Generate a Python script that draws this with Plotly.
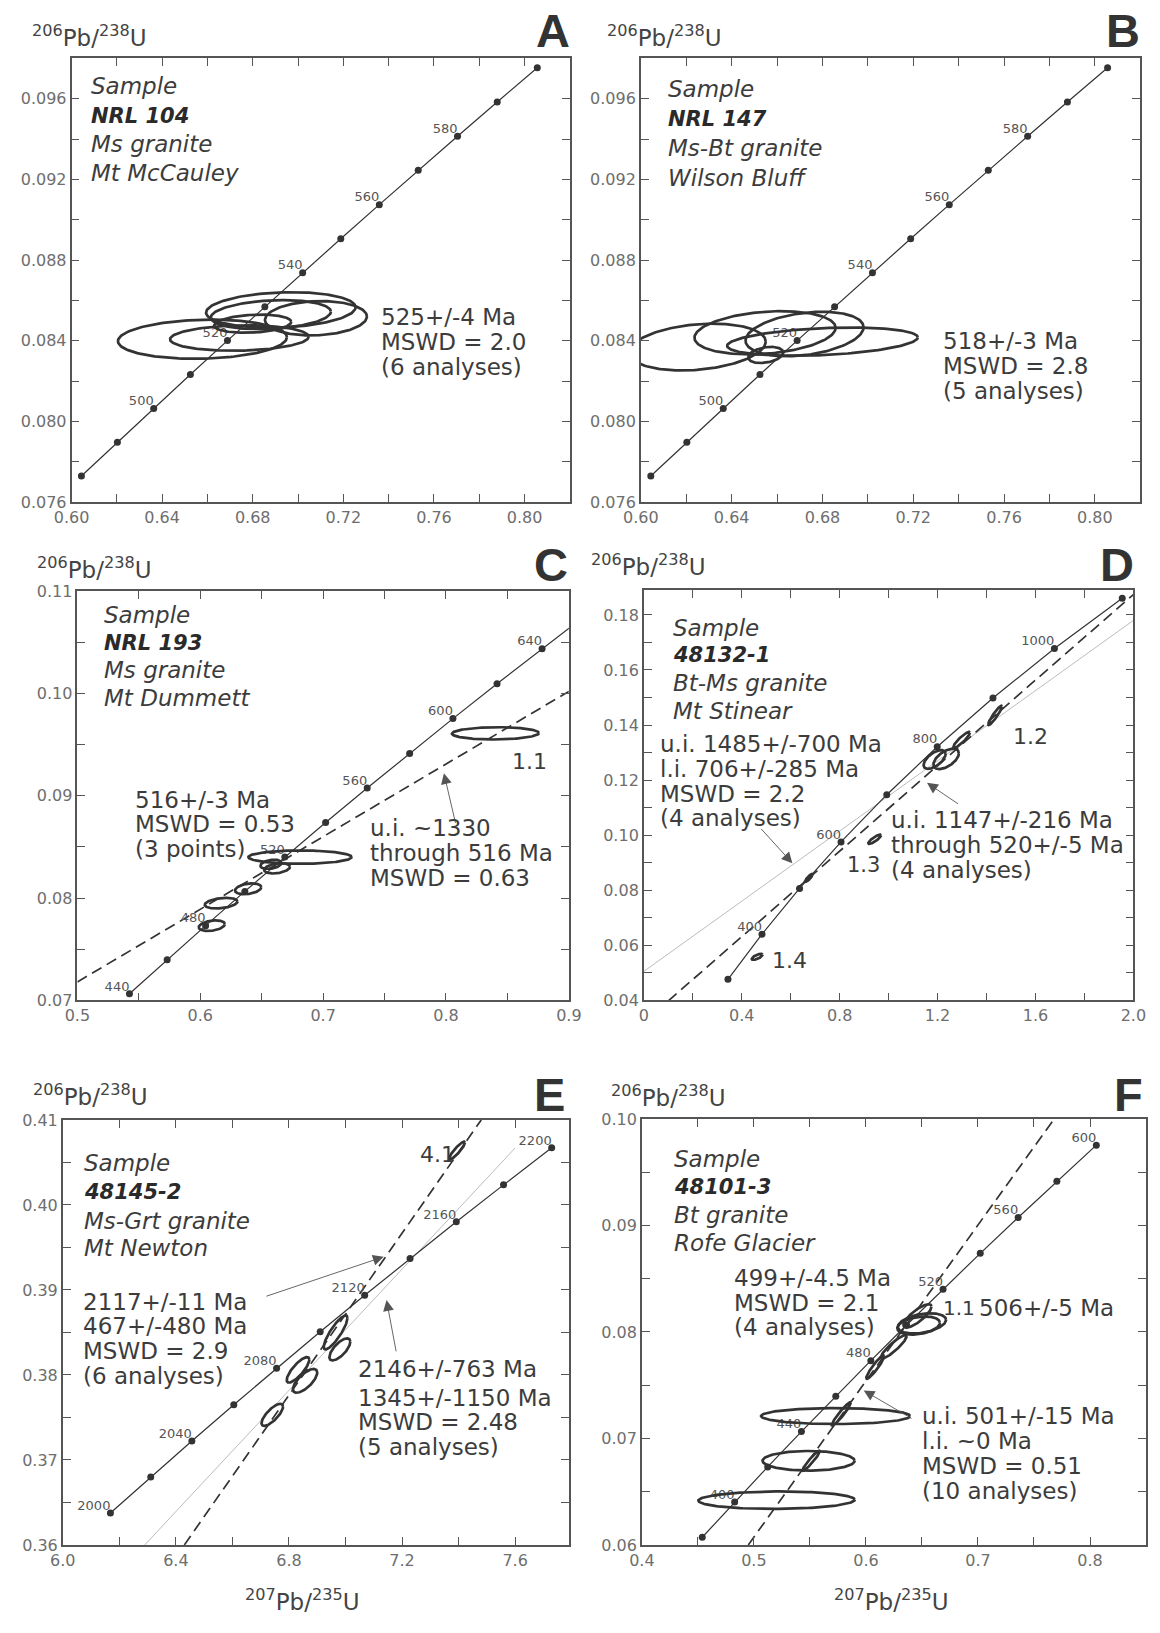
import numpy as np
import plotly.graph_objects as go

W, H = 1160, 1633
FONT = "DejaVu Sans"
DARK = "#333333"
TXT = "#3c3c3c"

# ---------------- Concordia points (age in Ma, 207Pb/235U, 206Pb/238U) ----------------
AB_conc_age = [480, 490, 500, 510, 520, 530, 540, 550, 560, 570, 580, 590, 600]
AB_conc_x = [0.60436, 0.62024, 0.63628, 0.65247, 0.66883, 0.68535, 0.70203,
             0.71887, 0.73588, 0.75306, 0.77041, 0.78794, 0.80563]
AB_conc_y = [0.07730, 0.07897, 0.08065, 0.08233, 0.08401, 0.08569, 0.08738,
             0.08906, 0.09075, 0.09245, 0.09414, 0.09584, 0.09754]
AB_conc_lbl = [500, 520, 540, 560, 580]

C_conc_age = [440, 460, 480, 500, 520, 540, 560, 580, 600, 620, 640, 660]
C_conc_x = [0.54239, 0.57307, 0.60436, 0.63628, 0.66883, 0.70203, 0.73588,
            0.77041, 0.80563, 0.84155, 0.87819, 0.91555]
C_conc_y = [0.07064, 0.07397, 0.07730, 0.08065, 0.08401, 0.08738, 0.09075,
            0.09414, 0.09754, 0.10095, 0.10438, 0.10781]
C_conc_lbl = [440, 480, 520, 560, 600, 640]

D_conc_age = [300, 400, 500, 600, 700, 800, 900, 1000, 1100]
D_conc_x = [0.34374, 0.48281, 0.63628, 0.80563, 0.99251, 1.19873, 1.42630, 1.67741, 1.95452]
D_conc_y = [0.04764, 0.06402, 0.08065, 0.09754, 0.11470, 0.13213, 0.14983, 0.16780, 0.18606]
D_conc_lbl = [400, 600, 800, 1000]

E_conc_age = [2000, 2020, 2040, 2060, 2080, 2100, 2120, 2140, 2160, 2180, 2200]
E_conc_x = [6.16853, 6.31112, 6.45656, 6.60489, 6.75617, 6.91045, 7.06781,
            7.22830, 7.39197, 7.55892, 7.72918]
E_conc_y = [0.36375, 0.36798, 0.37223, 0.37650, 0.38077, 0.38507, 0.38937,
            0.39369, 0.39802, 0.40236, 0.40672]
E_conc_lbl = [2000, 2040, 2080, 2120, 2160, 2200]

F_conc_age = [380, 400, 420, 440, 460, 480, 500, 520, 540, 560, 580, 600]
F_conc_x = [0.45389, 0.48281, 0.51231, 0.54239, 0.57307, 0.60436, 0.63628,
            0.66883, 0.70203, 0.73588, 0.77041, 0.80563]
F_conc_y = [0.06072, 0.06402, 0.06732, 0.07064, 0.07397, 0.07730, 0.08065,
            0.08401, 0.08738, 0.09075, 0.09414, 0.09754]
F_conc_lbl = [400, 440, 480, 520, 560, 600]

# ---------------- Error ellipses: centre, half-widths, correlation ----------------
A_ell_cx = [0.6578, 0.6741, 0.6924, 0.7079, 0.6880, 0.6800]
A_ell_cy = [0.08408, 0.08414, 0.08553, 0.08512, 0.08530, 0.08485]
A_ell_sx = [0.0373, 0.0306, 0.0330, 0.0225, 0.0265, 0.0170]
A_ell_sy = [0.00097, 0.00063, 0.00088, 0.00085, 0.00072, 0.00045]
A_ell_rho = [0.10, 0.10, 0.15, 0.10, 0.20, 0.20]

B_ell_cx = [0.6249, 0.6547, 0.6721, 0.6800, 0.6550]
B_ell_cy = [0.08369, 0.08440, 0.08434, 0.08396, 0.08330]
B_ell_sx = [0.0301, 0.0311, 0.0260, 0.0420, 0.0077]
B_ell_sy = [0.00116, 0.00107, 0.00110, 0.00070, 0.00040]
B_ell_rho = [0.23, 0.23, 0.30, 0.30, 0.30]

C_ell_cx = [0.8402, 0.6812, 0.6575, 0.6625, 0.6390, 0.6170, 0.6094]
C_ell_cy = [0.0961, 0.0840, 0.0833, 0.0829, 0.0809, 0.0795, 0.0773]
C_ell_sx = [0.0354, 0.0420, 0.0085, 0.0105, 0.0107, 0.0133, 0.0106]
C_ell_sy = [0.0006, 0.00065, 0.00045, 0.0005, 0.00053, 0.00052, 0.00052]
C_ell_rho = [0.05, 0.0, 0.3, 0.3, 0.3, 0.3, 0.3]

D_ell_cx = [1.435, 1.298, 1.188, 1.235, 0.943, 0.676, 0.668, 0.463]
D_ell_cy = [0.1435, 0.1346, 0.1275, 0.1277, 0.0985, 0.0846, 0.0840, 0.0558]
D_ell_sx = [0.028, 0.034, 0.045, 0.052, 0.026, 0.013, 0.010, 0.022]
D_ell_sy = [0.0035, 0.0029, 0.0034, 0.0037, 0.0017, 0.0013, 0.0010, 0.0011]
D_ell_rho = [0.93, 0.90, 0.60, 0.55, 0.85, 0.85, 0.85, 0.70]

E_ell_cx = [7.3945, 6.965, 6.980, 6.832, 6.857, 6.741]
E_ell_cy = [0.4064, 0.3850, 0.3830, 0.3806, 0.3793, 0.3753]
E_ell_sx = [0.028, 0.042, 0.037, 0.040, 0.043, 0.038]
E_ell_sy = [0.00105, 0.0020, 0.0013, 0.0015, 0.0014, 0.0013]
E_ell_rho = [0.9, 0.85, 0.7, 0.8, 0.7, 0.75]

F_ell_cx = [0.5202, 0.5488, 0.5729, 0.5511, 0.5780, 0.6083, 0.6248, 0.6500, 0.6470, 0.6460]
F_ell_cy = [0.0642, 0.0679, 0.0721, 0.0679, 0.0723, 0.0767, 0.0786, 0.0808, 0.0806, 0.0815]
F_ell_sx = [0.0698, 0.0411, 0.0665, 0.0078, 0.0085, 0.0080, 0.0115, 0.0215, 0.0190, 0.0125]
F_ell_sy = [0.00082, 0.00092, 0.00075, 0.00095, 0.0011, 0.0011, 0.0011, 0.00095, 0.00085, 0.0011]
F_ell_rho = [0.05, 0.0, 0.0, 0.95, 0.95, 0.93, 0.9, 0.35, 0.3, 0.8]

# ---------------- Discordia lines (end points) ----------------
C_dash_x = [0.5, 0.9]
C_dash_y = [0.0718, 0.1002]
D_dash_x = [0.10, 2.0]
D_dash_y = [0.0398, 0.1874]
D_thin_x = [0.0, 2.0]
D_thin_y = [0.0505, 0.1780]
E_dash_x = [6.43, 7.48]
E_dash_y = [0.36, 0.41]
E_thin_x = [6.29, 7.60]
E_thin_y = [0.36, 0.4067]
F_dash_x = [0.495, 0.768]
F_dash_y = [0.06, 0.10]

fig = go.Figure()


def dom_x(l, r):
    return [l / W, r / W]


def dom_y(t, b):
    return [1 - b / H, 1 - t / H]


def ax_name(i):
    return ("x" if i == 1 else f"x{i}"), ("y" if i == 1 else f"y{i}")


def axis(domain, rng, tick0, dtick, mdtick, fmt, anchor, tickvals=None, ticktext=None):
    d = dict(domain=domain, range=rng, tick0=tick0, dtick=dtick, tickformat=fmt,
             ticks="inside", ticklen=8, tickwidth=1.3, tickcolor="#555",
             mirror="allticks", showline=True, linecolor="#555", linewidth=1.6,
             showgrid=False, zeroline=False, anchor=anchor,
             tickfont=dict(family=FONT, size=16, color="#6e6e6e"),
             minor=dict(tick0=tick0, dtick=mdtick, ticks="inside", ticklen=8,
                        tickwidth=1.3, tickcolor="#555", showgrid=False))
    if tickvals is not None:
        d.update(tickmode="array", tickvals=tickvals, ticktext=ticktext)
        d.pop("dtick")
        d.pop("tick0")
    return d


panels = [
    # idx, box (l, r, t, b), xrange, yrange, x tick0/dtick/minor/fmt, y tick0/dtick/minor/fmt
    (1, (55, 567, 50, 499), [0.60, 0.82], [0.076, 0.098], (0.60, 0.04, 0.02, ".2f"), (0.076, 0.004, 0.002, ".3f")),
    (2, (640, 1153, 50, 499), [0.60, 0.82], [0.076, 0.098], (0.60, 0.04, 0.02, ".2f"), (0.076, 0.004, 0.002, ".3f")),
    (3, (61, 566, 589, 1003), [0.5, 0.9], [0.07, 0.11], (0.5, 0.1, 0.05, ".1f"), (0.07, 0.01, 0.005, ".2f")),
    (4, (643, 1146, 588, 1003), [0.0, 2.0], [0.04, 0.189], (0.0, 0.4, 0.2, ".1f"), (0.04, 0.02, 0.01, ".2f")),
    (5, (46, 566, 1124, 1554), [6.0, 7.79], [0.36, 0.41], (6.0, 0.4, 0.2, ".1f"), (0.36, 0.01, 0.005, ".2f")),
    (6, (641, 1159, 1123, 1554), [0.4, 0.85], [0.06, 0.10], (0.4, 0.1, 0.05, ".1f"), (0.06, 0.01, 0.005, ".2f")),
]

layout_axes = {}
for idx, (l, r, t, b), xr, yr, xt, yt in panels:
    xn, yn = ax_name(idx)
    kx = "xaxis" if idx == 1 else f"xaxis{idx}"
    ky = "yaxis" if idx == 1 else f"yaxis{idx}"
    if idx == 4:
        layout_axes[kx] = axis(dom_x(l, r), xr, xt[0], xt[1], xt[2], xt[3], yn,
                               tickvals=[0, 0.4, 0.8, 1.2, 1.6, 2.0],
                               ticktext=["0", "0.4", "0.8", "1.2", "1.6", "2.0"])
        layout_axes[kx]["minor"]["tick0"] = 0.0
    else:
        layout_axes[kx] = axis(dom_x(l, r), xr, xt[0], xt[1], xt[2], xt[3], yn)
    layout_axes[ky] = axis(dom_y(t, b), yr, yt[0], yt[1], yt[2], yt[3], xn)

annotations = []


def add_concordia(idx, cx, cy, ages, labels):
    xn, yn = ax_name(idx)
    fig.add_trace(go.Scatter(x=cx, y=cy, mode="lines+markers", xaxis=xn, yaxis=yn,
                             line=dict(color=DARK, width=1.2),
                             marker=dict(size=7, color=DARK), hoverinfo="skip"))
    lx = [x for a, x in zip(ages, cx) if a in labels]
    ly = [y for a, y in zip(ages, cy) if a in labels]
    lt = [str(a) for a in ages if a in labels]
    fig.add_trace(go.Scatter(x=lx, y=ly, mode="text", text=lt, textposition="top left",
                             xaxis=xn, yaxis=yn, cliponaxis=False,
                             textfont=dict(family=FONT, size=13, color="#555"),
                             hoverinfo="skip"))


def add_ellipses(idx, cx, cy, sx, sy, rho):
    xn, yn = ax_name(idx)
    t = np.linspace(0, 2 * np.pi, 160)
    xs, ys = [], []
    for a, b, c, d, r in zip(cx, cy, sx, sy, rho):
        xs += list(a + c * np.cos(t)) + [None]
        ys += list(b + d * (r * np.cos(t) + np.sqrt(1 - r * r) * np.sin(t))) + [None]
    fig.add_trace(go.Scatter(x=xs, y=ys, mode="lines", xaxis=xn, yaxis=yn,
                             line=dict(color=DARK, width=2.7), hoverinfo="skip"))


def add_line(idx, x, y, kind):
    xn, yn = ax_name(idx)
    if kind == "dash":
        ln = dict(color=DARK, width=1.7, dash="11px,6px")
    else:
        ln = dict(color="#b4b4b4", width=0.9)
    fig.add_trace(go.Scatter(x=x, y=y, mode="lines", xaxis=xn, yaxis=yn, line=ln,
                             hoverinfo="skip"))


def add_arrow(idx, head, tail):
    xn, yn = ax_name(idx)
    annotations.append(dict(x=head[0], y=head[1], ax=tail[0], ay=tail[1], xref=xn, yref=yn,
                            axref=xn, ayref=yn, text="", showarrow=True, arrowhead=2,
                            arrowsize=2.4, arrowwidth=0.9, arrowcolor="#555"))


def text_lines(lines, x_px, ys_px, size, color=TXT, xanchor="left"):
    for line, y in zip(lines, ys_px):
        annotations.append(dict(xref="paper", yref="paper", x=x_px / W, y=1 - y / H, text=line,
                                showarrow=False, xanchor=xanchor, yanchor="middle",
                                font=dict(family=FONT, size=size, color=color)))


def sample_block(name, rock, place, x_px, ys_px):
    text_lines(["<i>Sample</i>"], x_px, ys_px[0:1], 23)
    text_lines([f"<b><i>{name}</i></b>"], x_px, ys_px[1:2], 21, color="#2a2a2a")
    text_lines([f"<i>{rock}</i>", f"<i>{place}</i>"], x_px, ys_px[2:4], 23)


# lines first (below ellipses)
add_line(3, C_dash_x, C_dash_y, "dash")
add_line(4, D_thin_x, D_thin_y, "thin")
add_line(4, D_dash_x, D_dash_y, "dash")
add_line(5, E_thin_x, E_thin_y, "thin")
add_line(5, E_dash_x, E_dash_y, "dash")
add_line(6, F_dash_x, F_dash_y, "dash")

add_concordia(1, AB_conc_x, AB_conc_y, AB_conc_age, AB_conc_lbl)
add_concordia(2, AB_conc_x, AB_conc_y, AB_conc_age, AB_conc_lbl)
add_concordia(3, C_conc_x, C_conc_y, C_conc_age, C_conc_lbl)
add_concordia(4, D_conc_x, D_conc_y, D_conc_age, D_conc_lbl)
add_concordia(5, E_conc_x, E_conc_y, E_conc_age, E_conc_lbl)
add_concordia(6, F_conc_x, F_conc_y, F_conc_age, F_conc_lbl)

add_ellipses(1, A_ell_cx, A_ell_cy, A_ell_sx, A_ell_sy, A_ell_rho)
add_ellipses(2, B_ell_cx, B_ell_cy, B_ell_sx, B_ell_sy, B_ell_rho)
add_ellipses(3, C_ell_cx, C_ell_cy, C_ell_sx, C_ell_sy, C_ell_rho)
add_ellipses(4, D_ell_cx, D_ell_cy, D_ell_sx, D_ell_sy, D_ell_rho)
add_ellipses(5, E_ell_cx, E_ell_cy, E_ell_sx, E_ell_sy, E_ell_rho)
add_ellipses(6, F_ell_cx, F_ell_cy, F_ell_sx, F_ell_sy, F_ell_rho)

# arrows
add_arrow(3, (0.7983, 0.0922), (0.808, 0.0872))
add_arrow(4, (0.607, 0.0898), (0.474, 0.1028))
add_arrow(4, (1.157, 0.1190), (1.290, 0.1110))
add_arrow(5, (7.135, 0.3939), (6.715, 0.3892))
add_arrow(5, (7.145, 0.3888), (7.180, 0.3826))
add_arrow(6, (0.598, 0.0745), (0.642, 0.0718))

# sample blocks
sample_block("NRL 104", "Ms granite", "Mt McCauley", 73, [78, 108, 137, 166])
sample_block("NRL 147", "Ms-Bt granite", "Wilson Bluff", 666, [81, 111, 141, 171])
sample_block("NRL 193", "Ms granite", "Mt Dummett", 86, [613, 641, 669, 697])
sample_block("48132-1", "Bt-Ms granite", "Mt Stinear", 671, [626, 654, 682, 710])
sample_block("48145-2", "Ms-Grt granite", "Mt Newton", 66, [1168, 1197, 1226, 1254])
sample_block("48101-3", "Bt granite", "Rofe Glacier", 672, [1164, 1192, 1220, 1249])

# result texts
ST = 23
text_lines(["525+/-4 Ma", "MSWD = 2.0", "(6 analyses)"], 371, [312, 337, 362], ST)
text_lines(["518+/-3 Ma", "MSWD = 2.8", "(5 analyses)"], 948, [336, 361, 386], ST)
text_lines(["516+/-3 Ma", "MSWD = 0.53", "(3 points)"], 118, [800, 825, 850], ST)
text_lines(["u.i. ~1330", "through 516 Ma", "MSWD = 0.63"], 360, [829, 854, 879], ST)
text_lines(["1.1"], 505, [761], 22)
text_lines(["u.i. 1485+/-700 Ma", "l.i. 706+/-285 Ma", "MSWD = 2.2", "(4 analyses)"],
           658, [744, 769, 794, 819], ST)
text_lines(["u.i. 1147+/-216 Ma", "through 520+/-5 Ma", "(4 analyses)"], 895, [821, 846, 871], ST)
text_lines(["1.2"], 1020, [736], 22)
text_lines(["1.3"], 850, [866], 21)
text_lines(["1.4"], 773, [963], 22)
text_lines(["2117+/-11 Ma", "467+/-480 Ma", "MSWD = 2.9", "(6 analyses)"], 65, [1308, 1333, 1358, 1383], ST)
text_lines(["2146+/-763 Ma", "1345+/-1150 Ma", "MSWD = 2.48", "(5 analyses)"], 347, [1376, 1405, 1430, 1455], ST)
text_lines(["4.1"], 411, [1159], 22)
text_lines(["499+/-4.5 Ma", "MSWD = 2.1", "(4 analyses)"], 734, [1284, 1309, 1334], ST)
text_lines(["1.1"], 948, [1314], 20)
text_lines(["506+/-5 Ma"], 985, [1314], ST)
text_lines(["u.i. 501+/-15 Ma", "l.i. ~0 Ma", "MSWD = 0.51", "(10 analyses)"], 927, [1424, 1449, 1474, 1499], ST)

# axis titles
YT = "<sup>206</sup>Pb/<sup>238</sup>U"
XT = "<sup>207</sup>Pb/<sup>235</sup>U"
for xp, yp in [(12, 27), (603, 27), (17, 566), (587, 563), (13, 1099), (607, 1100)]:
    text_lines([YT], xp, [yp], 23, color="#444")
for xp in [292, 897]:
    text_lines([XT], xp, [1610], 23, color="#444", xanchor="center")

# panel letters
for letter, xp, yp in [("A", 569, 22), ("B", 1155, 22), ("C", 567, 562),
                       ("D", 1149, 562), ("E", 564, 1098), ("F", 1158, 1098)]:
    annotations.append(dict(xref="paper", yref="paper", x=xp / W, y=1 - yp / H, text=f"<b>{letter}</b>",
                            showarrow=False, xanchor="right", yanchor="middle",
                            font=dict(family="Liberation Sans", size=47, color="#333")))

fig.update_layout(width=W, height=H, margin=dict(l=0, r=0, t=0, b=0),
                  paper_bgcolor="white", plot_bgcolor="white", showlegend=False,
                  annotations=annotations, **layout_axes)

fig.write_html("out.html")
